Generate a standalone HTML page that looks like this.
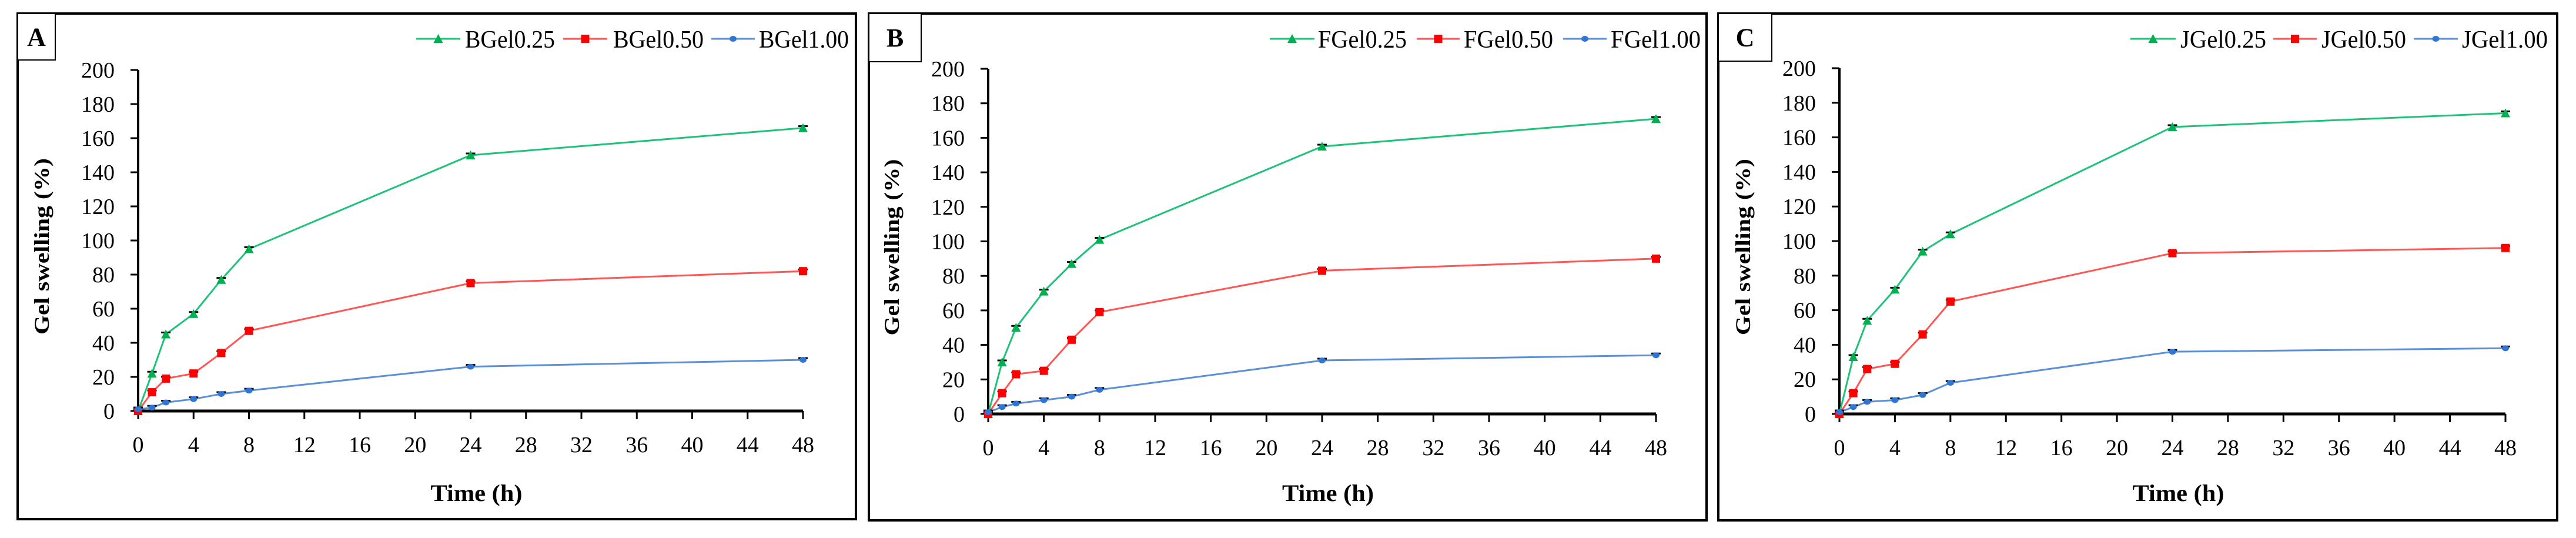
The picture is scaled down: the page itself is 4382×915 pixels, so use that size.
<!DOCTYPE html>
<html><head><meta charset="utf-8"><style>html,body{margin:0;padding:0;background:#fff}svg{display:block}text{font-family:"Liberation Serif",serif}</style></head>
<body>
<svg id="chart" xmlns="http://www.w3.org/2000/svg" width="4382" height="915" viewBox="0 0 4382 915"></svg>
<script>
const times = [0,1,2,4,6,8,24,48];
const xTicks = [0,4,8,12,16,20,24,28,32,36,40,44,48];
const yTicks = [0,20,40,60,80,100,120,140,160,180,200];
const panelLetters = ['A','B','C'];
const seriesNamesA = ['BGel0.25','BGel0.50','BGel1.00'];
const seriesNamesB = ['FGel0.25','FGel0.50','FGel1.00'];
const seriesNamesC = ['JGel0.25','JGel0.50','JGel1.00'];
const aLow = [0,22,45,57,77,95,150,166];
const aMid = [0,11,19,22,34,47,75,82];
const aHigh = [1,2,5,7,10,12,26,30];
const bLow = [0,30,50,71,87,101,155,171];
const bMid = [0,12,23,25,43,59,83,90];
const bHigh = [1,4,6,8,10,14,31,34];
const cLow = [0,33,54,72,94,104,166,174];
const cMid = [0,12,26,29,46,65,93,96];
const cHigh = [1,4,7,8,11,18,36,38];

const NS='http://www.w3.org/2000/svg';
const svg=document.getElementById('chart');
function mk(tag,attrs,parent){const e=document.createElementNS(NS,tag);for(const k in attrs)e.setAttribute(k,attrs[k]);(parent||svg).appendChild(e);return e;}
const colors=['#00b050','#ff0000','#2e75d6'];
const lineColors=['#1fc27a','#ff5555','#5b8fd6'];

const panels=[
 {bx0:30,bx1:1456,by0:23,by1:883,lb:[30,94,23,102],x0:235,x48:1366,y0:699,y200:119,names:seriesNamesA,data:[aLow,aMid,aHigh],
  leg:[[708,783,791,944],[958,1033,1043,1197],[1210,1284,1291,1444]]},
 {bx0:1478,bx1:2903,by0:23,by1:885,lb:[1478,1567,23,105],x0:1681,x48:2817,y0:704,y200:117,names:seriesNamesB,data:[bLow,bMid,bHigh],
  leg:[[2160,2236,2242,2393],[2410,2483,2490,2642],[2659,2733,2740,2893]]},
 {bx0:2923,bx1:4350,by0:23,by1:885,lb:[2923,3014,23,104],x0:3129,x48:4262,y0:704,y200:116,names:seriesNamesC,data:[cLow,cMid,cHigh],
  leg:[[3624,3701,3709,3855],[3867,3941,3949,4093],[4106,4181,4188,4334]]}
];

function marker(g,k,cx,cy){
  if(k===0){const m=mk('polygon',{points:`${cx-8},${cy+7} ${cx+8},${cy+7} ${cx},${cy-8}`,fill:colors[0]},g);return m;}
  if(k===1){return mk('rect',{x:cx-7,y:cy-7,width:14,height:14,fill:colors[1]},g);}
  return mk('ellipse',{cx:cx,cy:cy,rx:6,ry:5,fill:colors[2]},g);
}

panels.forEach((p,pi)=>{
  const g=mk('g',{});
  
  
  const X=t=>p.x0+(p.x48-p.x0)*t/48;
  const Y=v=>p.y0-(p.y0-p.y200)*v/200;
  const fr=mk('rect',{x:p.bx0,y:p.by0,width:p.bx1-p.bx0,height:p.by1-p.by0,fill:'none',stroke:'#000','stroke-width':4},g);
  
  
  const lb=mk('rect',{x:p.lb[0],y:p.lb[2],width:p.lb[1]-p.lb[0],height:p.lb[3]-p.lb[2],fill:'#fff',stroke:'#000','stroke-width':2},g);
  
  
  const lt=mk('text',{x:(p.lb[0]+p.lb[1])/2,y:(p.lb[2]+p.lb[3])/2+15,'text-anchor':'middle','font-size':44,'font-weight':'bold'},g);
  lt.textContent=panelLetters[pi];
  
  
  // axes
  const ax=mk('g',{},g);
  
  
  mk('line',{x1:p.x0,y1:Y(0),x2:X(48),y2:Y(0),stroke:'#000','stroke-width':5},ax);
  mk('line',{x1:p.x0,y1:Y(200),x2:p.x0,y2:Y(0),stroke:'#000','stroke-width':4},ax);
  yTicks.forEach(v=>{
    mk('line',{x1:p.x0-13,y1:Y(v),x2:p.x0,y2:Y(v),stroke:'#000','stroke-width':3},ax);
    const t=mk('text',{x:p.x0-40,y:Y(v)+13,'text-anchor':'end','font-size':38},ax);
    t.textContent=v;
    
    
  });
  xTicks.forEach(v=>{
    mk('line',{x1:X(v),y1:Y(0),x2:X(v),y2:Y(0)+14,stroke:'#000','stroke-width':3},ax);
    const t=mk('text',{x:X(v),y:Y(0)+70,'text-anchor':'middle','font-size':38},ax);
    t.textContent=v;
    
    
  });
  const yt=mk('text',{x:0,y:0,'text-anchor':'middle','font-size':36,'font-weight':'bold',transform:`translate(${p.x0-152},${(Y(0)+Y(200))/2+10}) rotate(-90)`,textLength:300,lengthAdjust:'spacingAndGlyphs'},g);
  yt.textContent='Gel swelling (%)';
  
  
  const xt=mk('text',{x:(p.x0+X(48))/2+10,y:852,'text-anchor':'middle','font-size':40,'font-weight':'bold',textLength:156,lengthAdjust:'spacingAndGlyphs'},g);
  xt.textContent='Time (h)';
  
  
  // series
  p.data.forEach((arr,k)=>{
    const sg=mk('g',{},g);
    
    
    const pts=arr.map((v,i)=>X(times[i])+','+Y(v)).join(' ');
    mk('polyline',{points:pts,fill:'none',stroke:lineColors[k],'stroke-width':3},sg);
    arr.forEach((v,i)=>{
      const cx=X(times[i]),cy=Y(v);
      mk('line',{x1:cx-8,y1:cy-3,x2:cx+8,y2:cy-3,stroke:'#000','stroke-width':3},sg);
      const m=marker(sg,k,cx,cy);
      
      
    });
  });
  // legend
  p.leg.forEach((L,k)=>{
    const lg=mk('g',{},g);
    
    
    const ly=66;
    mk('line',{x1:L[0],y1:ly,x2:L[1],y2:ly,stroke:lineColors[k],'stroke-width':3},lg);
    marker(lg,k,(L[0]+L[1])/2,ly);
    const t=mk('text',{x:L[2],y:ly+15,'font-size':42,textLength:L[3]-L[2],lengthAdjust:'spacingAndGlyphs'},lg);
    t.textContent=p.names[k];
  });
});
</script>
</body></html>
